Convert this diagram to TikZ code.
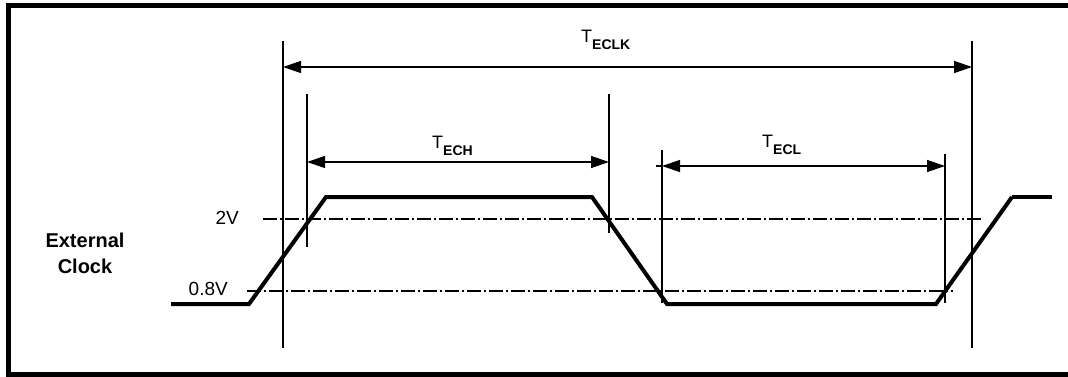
\documentclass[tikz,border=0pt]{standalone}
\usepackage{fontspec}
\setmainfont{Liberation Sans}
\usetikzlibrary{arrows.meta}
\tikzset{
  frame/.style={line width=5pt},
  signal/.style={line width=4pt, line join=miter},
  guide/.style={line width=1.3pt},
  level/.style={line width=1.2pt, dash pattern=on 14pt off 3pt on 2pt off 3pt},
  dim/.style={line width=1.3pt, {Triangle[length=18pt,width=12pt]}-{Triangle[length=18pt,width=12pt]}},
  lbl/.style={inner sep=0pt, font=\fontsize{19}{20}\selectfont},
  tlab/.style={inner sep=0pt, anchor=base west, font=\fontsize{18}{20}\selectfont},
}
\newcommand{\tsub}[1]{\raisebox{-7pt}{\fontsize{14}{15}\selectfont\bfseries #1}}
\begin{document}
\begin{tikzpicture}[x=1pt,y=-1pt]
\useasboundingbox (0,0) rectangle (1068,377);
% frame
\draw[frame] (1075,5.5) -- (8.5,5.5) -- (8.5,374.5) -- (1075,374.5);

% guide lines
\coordinate (v1t) at (283,41);  \coordinate (v1b) at (283,348);
\coordinate (v2t) at (307,94);  \coordinate (v2b) at (307,247);
\coordinate (v3t) at (609,94);  \coordinate (v3b) at (609,233);
\coordinate (v4t) at (662,150); \coordinate (v4b) at (662,303);
\coordinate (v6t) at (945,154); \coordinate (v6b) at (945,303);
\coordinate (v5t) at (972,41);  \coordinate (v5b) at (972,348);
\foreach \v in {1,...,6} \draw[guide] (v\v t) -- (v\v b);

% level lines
\coordinate (h2a) at (263,219); \coordinate (h2b) at (983,219);
\coordinate (h0a) at (247,291); \coordinate (h0b) at (953,291);
\draw[level] (h2a) -- (h2b);
\draw[level] (h0a) -- (h0b);

% signal
\coordinate (s0) at (171,304);
\coordinate (s1) at (249,304);
\coordinate (s2) at (326,197);
\coordinate (s3) at (592,197);
\coordinate (s4) at (667,304);
\coordinate (s5) at (936,304);
\coordinate (s6) at (1012,197);
\coordinate (s7) at (1052,197);
\draw[signal] (s0) -- (s1) -- (s2) -- (s3) -- (s4) -- (s5) -- (s6);
\draw[line width=3.5pt] (s6) -- (s7);

% dimension arrows
\coordinate (a1l) at (283,67);  \coordinate (a1r) at (972,67);
\coordinate (a2l) at (307,162); \coordinate (a2r) at (609,162);
\coordinate (a3l) at (662,166); \coordinate (a3r) at (945,166);
\coordinate (a3x) at (656,166);
\draw[dim] (a1l) -- (a1r);
\draw[dim] (a2l) -- (a2r);
\draw[dim] (a3l) -- (a3r);
\draw[guide] (a3x) -- (a3l);

% labels
\node[tlab] (tclk) at (581,43) {T\tsub{ECLK}};
\node[tlab] (tech) at (432,149) {T\tsub{ECH}};
\node[tlab] (tecl) at (762,147) {T\tsub{ECL}};
\node[lbl, anchor=east] (l2v) at (239,218) {2V};
\node[lbl, anchor=east] (l08v) at (228,289) {0.8V};
\node[lbl, font=\fontsize{20}{26}\selectfont\bfseries, align=center] (ext) at (85,253) {External\\Clock};
\end{tikzpicture}
\end{document}
